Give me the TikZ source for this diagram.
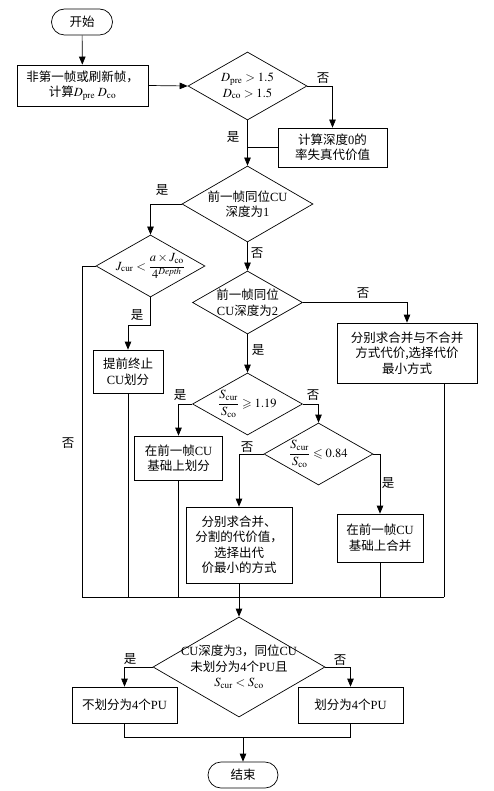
\documentclass[tikz,border=0pt]{standalone}
\usepackage{mathptmx}
\usepackage{amsmath}
\usepackage{amssymb}
\usepackage{fontspec}
\setmainfont{Liberation Serif}
\newfontfamily\cjk{Noto Sans CJK SC}
\newcommand\zh[1]{{\cjk #1}}
\usetikzlibrary{shapes.geometric,arrows.meta}
\begin{document}
\begin{tikzpicture}[x=1pt,y=-1pt,line width=0.7pt,
  >={Triangle[length=8pt,width=6.5pt]},
  font=\fontsize{12.5}{15.5}\selectfont,
  box/.style={draw,rectangle,inner sep=1pt,align=center},
  term/.style={draw,rectangle,rounded corners=13pt,inner sep=1pt,align=center},
  dia/.style={draw,diamond,inner sep=0pt},
  dtext/.style={inner sep=0pt,align=center},
  lab/.style={inner sep=0pt,font=\fontsize{12.5}{15}\cjk}]
\useasboundingbox[fill=white] (0,0) rectangle (494,791);

% nodes
\node[term,minimum width=61pt,minimum height=26pt] (start) at (82,22) {\zh{开始}};
\node[box,minimum width=131pt,minimum height=41pt] (b1) at (82.5,85.5)
  {\zh{非第一帧或刷新帧，}\\\zh{计算}$D_{\mathrm{pre}}\;D_{\mathrm{co}}$};
\node[dia,minimum width=119pt,minimum height=68pt] (d1) at (247.5,86) {};
\node[dtext] (d1t) at (d1) {$D_{\mathrm{pre}}>1.5$\\$D_{\mathrm{co}}>1.5$};
\node[box,minimum width=109pt,minimum height=39pt] (b2) at (332.5,147.5)
  {\zh{计算深度}0\zh{的}\\\zh{率失真代价值}};
\node[dia,minimum width=131pt,minimum height=76pt] (d2) at (247.5,204) {};
\node[dtext] (d2t) at (d2) {\zh{前一帧同位}CU\\\zh{深度为}1};
\node[dia,minimum width=109pt,minimum height=62pt] (d3) at (150.5,266) {};
\node[dtext] (d3t) at (d3) {$J_{\mathrm{cur}}<\dfrac{a\times J_{\mathrm{co}}}{4^{\mathit{Depth}}}$};
\node[box,minimum width=70pt,minimum height=43pt] (b3) at (128,371.5)
  {\zh{提前终止}\\CU\zh{划分}};
\node[dia,minimum width=110pt,minimum height=63pt] (d4) at (247.5,302.5) {};
\node[dtext] (d4t) at (d4) {\zh{前一帧同位}\\CU\zh{深度为}2};
\node[box,minimum width=140pt,minimum height=60pt] (b4) at (407,353)
  {\zh{分别求合并与不合并}\\\zh{方式代价,选择代价}\\\zh{最小方式}};
\node[dia,minimum width=110pt,minimum height=62pt] (d5) at (247.5,404) {};
\node[dtext] (d5t) at (d5) {$\dfrac{S_{\mathrm{cur}}}{S_{\mathrm{co}}}\geqslant 1.19$};
\node[box,minimum width=88pt,minimum height=44pt] (b5) at (178.5,458)
  {\zh{在前一帧}CU\\\zh{基础上划分}};
\node[dia,minimum width=109pt,minimum height=62pt] (d6) at (318.5,454) {};
\node[dtext] (d6t) at (d6) {$\dfrac{S_{\mathrm{cur}}}{S_{\mathrm{co}}}\leqslant 0.84$};
\node[box,minimum width=106pt,minimum height=76pt] (b6) at (239,545)
  {\zh{分别求合并、}\\\zh{分割的代价值，}\\\zh{选择出代}\\\zh{价最小的方式}};
\node[box,minimum width=86pt,minimum height=48pt] (b7) at (380,538)
  {\zh{在前一帧}CU\\\zh{基础上合并}};
\node[dia,minimum width=172pt,minimum height=100pt] (d7) at (239,667) {};
\node[dtext] (d7t) at (d7) {CU\zh{深度为}3\zh{，同位}CU\\\zh{未划分为}4\zh{个}PU\zh{且}\\$S_{\mathrm{cur}}<S_{\mathrm{co}}$};
\node[box,minimum width=105pt,minimum height=36pt] (b8) at (124.5,705) {\zh{不划分为}4\zh{个}PU};
\node[box,minimum width=105pt,minimum height=36pt] (b9) at (350.5,705) {\zh{划分为}4\zh{个}PU};
\node[term,minimum width=70pt,minimum height=26pt] (end) at (243,775) {\zh{结束}};

% coordinates
\coordinate (bl) at (82,597);
\coordinate (br) at (444,597);
\coordinate (b4o) at (444,383);
\coordinate (j3) at (150.5,325);
\coordinate (j8) at (124.5,737);
\coordinate (jm) at (243,737);

% connectors
\draw[->] (start) -- (b1);
\draw[->] (b1.east) -- (d1.west);
\draw[->] (d1.east) -| (b2.north);
\draw[->] (d1.south) -- (d2.north);
\draw (b2.west) -- (b2.west -| d1.south);
\draw[->] (d2.west) -| (d3.north);
\draw (d3.west) -| (bl);
\draw[->] (d3.south) -- (j3) -| (b3.north);
\draw (b3.south) -- (b3.south |- bl);
\draw[->] (d2.south) -- (d4.north);
\draw[->] (d4.east) -| (b4.north);
\draw (b4o) -- (br);
\draw[->] (d4.south) -- (d5.north);
\draw[->] (d5.west) -| (b5.north);
\draw (b5.south) -- (b5.south |- bl);
\draw[->] (d5.east) -| (d6.north);
\draw[->] (d6.west) -| (b6.north);
\draw[->] (d6.east) -| (b7.north);
\draw (b7.south) -- (b7.south |- bl);
\draw (bl) -- (br);
\draw[->] (b6.south) -- (d7.north);
\draw[->] (d7.west) -| (b8.north);
\draw[->] (d7.east) -| (b9.north);
\draw (b8.south) -- (j8) -| (b9.south);
\draw[->] (jm) -- (end.north);

% labels
\node[lab] (l1) at (323,78) {否};
\node[lab] (l2) at (233,137) {是};
\node[lab] (l3) at (162,190) {是};
\node[lab] (l4) at (68,443) {否};
\node[lab] (l5) at (137,315) {是};
\node[lab] (l6) at (257,253) {否};
\node[lab] (l7) at (363,293) {否};
\node[lab] (l8) at (258,350) {是};
\node[lab] (l9) at (180,395) {是};
\node[lab] (l10) at (313,395) {否};
\node[lab] (l11) at (247,447) {否};
\node[lab] (l12) at (388,483) {是};
\node[lab] (l13) at (130,659) {是};
\node[lab] (l14) at (340,660) {否};
\end{tikzpicture}
\end{document}
